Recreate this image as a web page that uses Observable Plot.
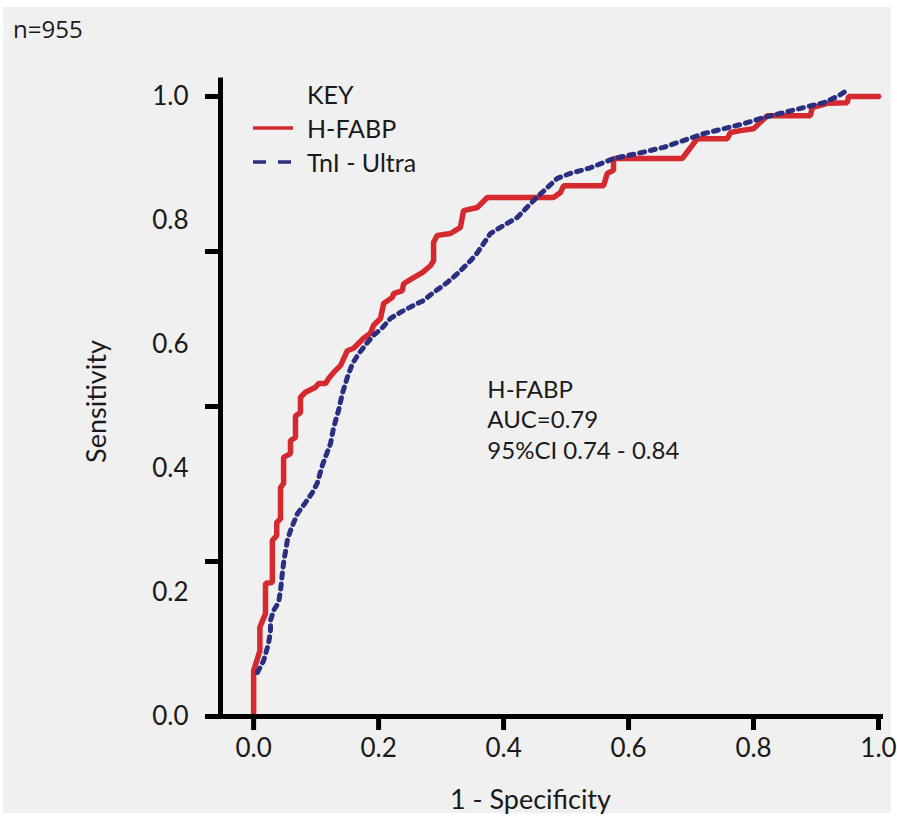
<!DOCTYPE html>
<html>
<head>
<meta charset="utf-8">
<script src="https://cdn.jsdelivr.net/npm/d3@7"></script>
<script src="https://cdn.jsdelivr.net/npm/@observablehq/plot@0.6"></script>
<style>
  html, body { margin: 0; padding: 0; background: #ffffff; width: 897px; height: 821px; overflow: hidden; }
  #bg { position: absolute; left: 3px; top: 7px; width: 888px; height: 806px; background: #f0f0f0; }
  #title { position: absolute; left: 13px; top: 12px; font: 24px "Open Sans", sans-serif; color: #1a1a1a; }
  #chart { position: absolute; left: 0; top: 46px; }
  #legend { position: absolute; left: 253px; top: 77px; font: 25px Lato, sans-serif; color: #1a1a1a; }
  #legend .row { display: flex; align-items: center; height: 34px; }
  #legend svg { width: 54px; height: 10px; }
</style>
</head>
<body>
<div id="bg"></div>
<div id="title">n=955</div>
<div id="chart"></div>
<div id="legend"></div>
<script>
// ---- data ----
const hfabpX = [0,0,0.010,0.010,0.019,0.019,0.030,0.030,0.037,0.037,0.043,0.043,0.048,0.048,0.059,0.059,0.067,0.067,0.075,0.075,0.083,0.099,0.104,0.115,0.120,0.128,0.139,0.150,0.160,0.168,0.176,0.187,0.192,0.203,0.208,0.222,0.224,0.238,0.240,0.256,0.270,0.283,0.288,0.288,0.294,0.315,0.331,0.336,0.358,0.374,0.480,0.491,0.496,0.560,0.566,0.576,0.576,0.686,0.710,0.758,0.763,0.779,0.800,0.822,0.891,0.894,0.918,0.950,0.952,1.0];
const hfabpY = [0,0.074,0.106,0.144,0.166,0.215,0.216,0.284,0.292,0.313,0.319,0.369,0.376,0.418,0.424,0.445,0.450,0.485,0.490,0.515,0.523,0.531,0.537,0.537,0.545,0.555,0.566,0.590,0.594,0.602,0.610,0.618,0.631,0.642,0.666,0.676,0.682,0.687,0.698,0.708,0.716,0.727,0.735,0.765,0.776,0.779,0.789,0.816,0.821,0.837,0.837,0.845,0.856,0.856,0.876,0.881,0.900,0.900,0.932,0.932,0.942,0.945,0.948,0.969,0.969,0.982,0.989,0.990,1.0,1.0];

const tniX = [0.006,0.016,0.024,0.027,0.027,0.032,0.040,0.043,0.046,0.048,0.054,0.059,0.070,0.083,0.094,0.102,0.110,0.117,0.123,0.128,0.136,0.142,0.150,0.158,0.168,0.182,0.192,0.206,0.219,0.235,0.256,0.272,0.288,0.310,0.328,0.347,0.358,0.379,0.395,0.422,0.443,0.456,0.470,0.486,0.507,0.539,0.576,0.614,0.656,0.688,0.720,0.752,0.784,0.816,0.848,0.880,0.912,0.934,0.947];
const tniY = [0.071,0.090,0.118,0.139,0.155,0.171,0.184,0.203,0.231,0.248,0.284,0.300,0.327,0.345,0.361,0.377,0.405,0.424,0.440,0.466,0.494,0.521,0.547,0.569,0.585,0.603,0.615,0.627,0.642,0.652,0.663,0.671,0.684,0.700,0.716,0.735,0.748,0.779,0.789,0.805,0.827,0.840,0.853,0.868,0.876,0.885,0.900,0.908,0.918,0.929,0.940,0.948,0.956,0.966,0.974,0.982,0.990,1.0,1.008];

const xTicks = [0, 0.2, 0.4, 0.6, 0.8, 1.0];
const yTickLabels = [0, 0.2, 0.4, 0.6, 0.8, 1.0];
const yTickMarks = [0, 0.25, 0.5, 0.75, 1.0];

const seriesNames = ["H-FABP", "TnI - Ultra"];
const legendTitle = "KEY";
const annotationLines = ["H-FABP", "AUC=0.79", "95%CI 0.74 - 0.84"];
const xLabel = "1 - Specificity";
const yLabel = "Sensitivity";

// ---- styling / layout ----
const RED = "#d42a2f";
const BLUE = "#2b2f80";
const INK = "#1a1a1a";
const xDomain = [-0.053, 1.0];
const xAxisLineStart = -0.077, xAxisLineEnd = 1.008;
const yAxisLineTop = 1.03;

const hfabp = hfabpX.map((x, i) => ({x, y: hfabpY[i]}));
const tni = tniX.map((x, i) => ({x, y: tniY[i]}));

const chart = Plot.plot({
  width: 897,
  height: 775,
  marginTop: 50,
  marginBottom: 105,
  marginLeft: 220,
  marginRight: 19,
  style: {fontFamily: "Lato, sans-serif", fontSize: "26px", background: "transparent", color: INK},
  x: {domain: xDomain, label: null},
  y: {domain: [0, 1], label: null},
  marks: [
    Plot.line(hfabp, {x: "x", y: "y", stroke: RED, strokeWidth: 5.5, strokeLinejoin: "miter"}),
    Plot.line(tni, {x: "x", y: "y", stroke: BLUE, strokeWidth: 5, strokeDasharray: "5,6"}),
    Plot.ruleY([0], {x1: xAxisLineStart, x2: xAxisLineEnd, stroke: "black", strokeWidth: 5}),
    Plot.ruleX([xDomain[0]], {y1: 0, y2: yAxisLineTop, stroke: "black", strokeWidth: 5}),
    Plot.axisY(yTickLabels, {tickSize: 0, tickPadding: 32, tickFormat: d3.format(".1f"), fontSize: 26, fill: INK}),
    Plot.axisY(yTickMarks, {tickSize: 15, strokeWidth: 5, stroke: "black", tickFormat: () => ""}),
    Plot.axisX(xTicks, {tickSize: 14, strokeWidth: 5, stroke: "black", tickPadding: 8, tickFormat: d3.format(".1f"), fontSize: 26, fill: INK}),
    Plot.text([annotationLines.join("\n")], {x: 0.374, y: 0.549, text: d => d, textAnchor: "start", lineAnchor: "top", fontSize: 24, lineHeight: 1.27, fill: INK}),
    Plot.text([xLabel], {x: 0.443, y: -0.135, text: d => d, fontSize: 27, fill: INK}),
    Plot.text([yLabel], {x: -0.25, y: 0.508, text: d => d, rotate: -90, fontSize: 27, fill: INK})
  ]
});
document.getElementById("chart").appendChild(chart);

// legend
const legend = document.getElementById("legend");
const ns = "http://www.w3.org/2000/svg";
const head = document.createElement("div");
head.className = "row";
head.style.paddingLeft = "54px";
head.textContent = legendTitle;
legend.appendChild(head);
const swatchStyles = [{stroke: RED, dash: null}, {stroke: BLUE, dash: "13,12"}];
seriesNames.forEach((name, i) => {
  const row = document.createElement("div");
  row.className = "row";
  const svg = document.createElementNS(ns, "svg");
  svg.setAttribute("viewBox", "0 0 54 10");
  const ln = document.createElementNS(ns, "line");
  ln.setAttribute("x1", 0); ln.setAttribute("x2", 40);
  ln.setAttribute("y1", 5); ln.setAttribute("y2", 5);
  ln.setAttribute("stroke", swatchStyles[i].stroke);
  ln.setAttribute("stroke-width", 3.5);
  if (swatchStyles[i].dash) ln.setAttribute("stroke-dasharray", swatchStyles[i].dash);
  svg.appendChild(ln);
  row.appendChild(svg);
  const t = document.createElement("span");
  t.textContent = name;
  row.appendChild(t);
  legend.appendChild(row);
});
</script>
</body>
</html>
